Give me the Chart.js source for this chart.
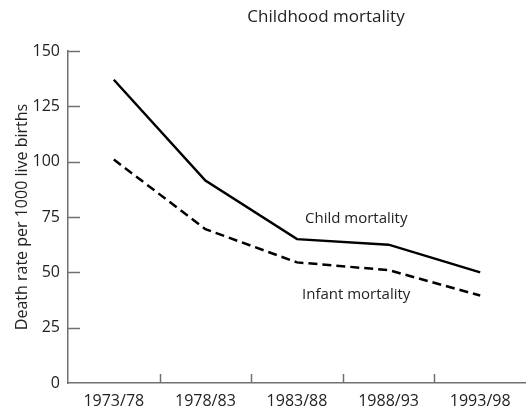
<!DOCTYPE html>
<html>
<head>
<meta charset="utf-8">
<script src="https://cdn.jsdelivr.net/npm/chart.js@4"></script>
<style>
  html, body { margin: 0; padding: 0; background: #fff; }
  #wrap { width: 526px; height: 410px; }
</style>
</head>
<body>
<div id="wrap"><canvas id="grafico" width="526" height="410"></canvas></div>
<script>
const periodos = ["1973/78", "1978/83", "1983/88", "1988/93", "1993/98"];
const childMortality = [137, 91.5, 65, 62.5, 50];
const infantMortality = [101, 69.5, 54.5, 51, 39.5];
const yTicks = [0, 25, 50, 75, 100, 125, 150];

const fuente = "'Open Sans', 'Noto Sans', sans-serif";
const texto = "#222";
const gris = "#707070";

// ticks drawn inward, axis title, series labels and title
const extras = {
  id: "extras",
  afterDraw(chart) {
    const c = chart.ctx;
    const x = chart.scales.x;
    const y = chart.scales.y;
    const area = chart.chartArea;
    c.save();
    c.strokeStyle = gris;
    c.lineWidth = 1.5;
    yTicks.forEach(v => {
      if (v === 0) return;
      const py = Math.round(y.getPixelForValue(v)) + 0.5;
      c.beginPath();
      c.moveTo(area.left, py);
      c.lineTo(area.left + 12, py);
      c.stroke();
    });
    for (let i = 1; i < periodos.length; i++) {
      const px = Math.round((x.getPixelForValue(i - 1) + x.getPixelForValue(i)) / 2) + 0.5;
      c.beginPath();
      c.moveTo(px, area.bottom);
      c.lineTo(px, area.bottom - 9);
      c.stroke();
    }
    c.fillStyle = texto;
    c.font = "15px " + fuente;
    c.textBaseline = "middle";
    c.textAlign = "left";
    c.fillText("Child mortality", x.getPixelForValue(2) + 8, y.getPixelForValue(74));
    c.fillText("Infant mortality", x.getPixelForValue(2) + 5, y.getPixelForValue(40));
    c.textAlign = "center";
    c.font = "17px " + fuente;
    c.fillText("Childhood mortality", 326, 17);
    c.font = "16px " + fuente;
    c.translate(22, (area.top + area.bottom) / 2);
    c.rotate(-Math.PI / 2);
    c.fillText("Death rate per 1000 live births", 0, 0);
    c.restore();
  }
};

new Chart(document.getElementById("grafico"), {
  type: "line",
  data: {
    labels: periodos,
    datasets: [
      {
        label: "Child mortality",
        data: childMortality,
        borderColor: "#000",
        borderWidth: 2.5,
        pointRadius: 0,
        tension: 0,
        fill: false
      },
      {
        label: "Infant mortality",
        data: infantMortality,
        borderColor: "#000",
        borderWidth: 2.5,
        borderDash: [9, 5],
        pointRadius: 0,
        tension: 0,
        fill: false
      }
    ]
  },
  options: {
    responsive: false,
    animation: false,
    layout: { padding: { top: 51, right: 0, left: 0, bottom: 0 } },
    plugins: {
      legend: { display: false },
      tooltip: { enabled: false }
    },
    scales: {
      x: {
        type: "category",
        offset: true,
        grid: { display: false, drawTicks: false },
        border: { display: true, color: gris, width: 1.5 },
        ticks: {
          color: texto,
          font: { family: fuente, size: 16 },
          padding: 9,
          maxRotation: 0
        },
        afterFit: s => { s.height = 27; }
      },
      y: {
        min: 0,
        max: 150,
        afterBuildTicks: s => { s.ticks = yTicks.map(v => ({ value: v })); },
        grid: { display: false, drawTicks: false },
        border: { display: true, color: gris, width: 1.5 },
        ticks: {
          color: texto,
          font: { family: fuente, size: 16 },
          padding: 8
        },
        afterFit: s => { s.width = 68; }
      }
    }
  },
  plugins: [extras]
});
</script>
</body>
</html>
